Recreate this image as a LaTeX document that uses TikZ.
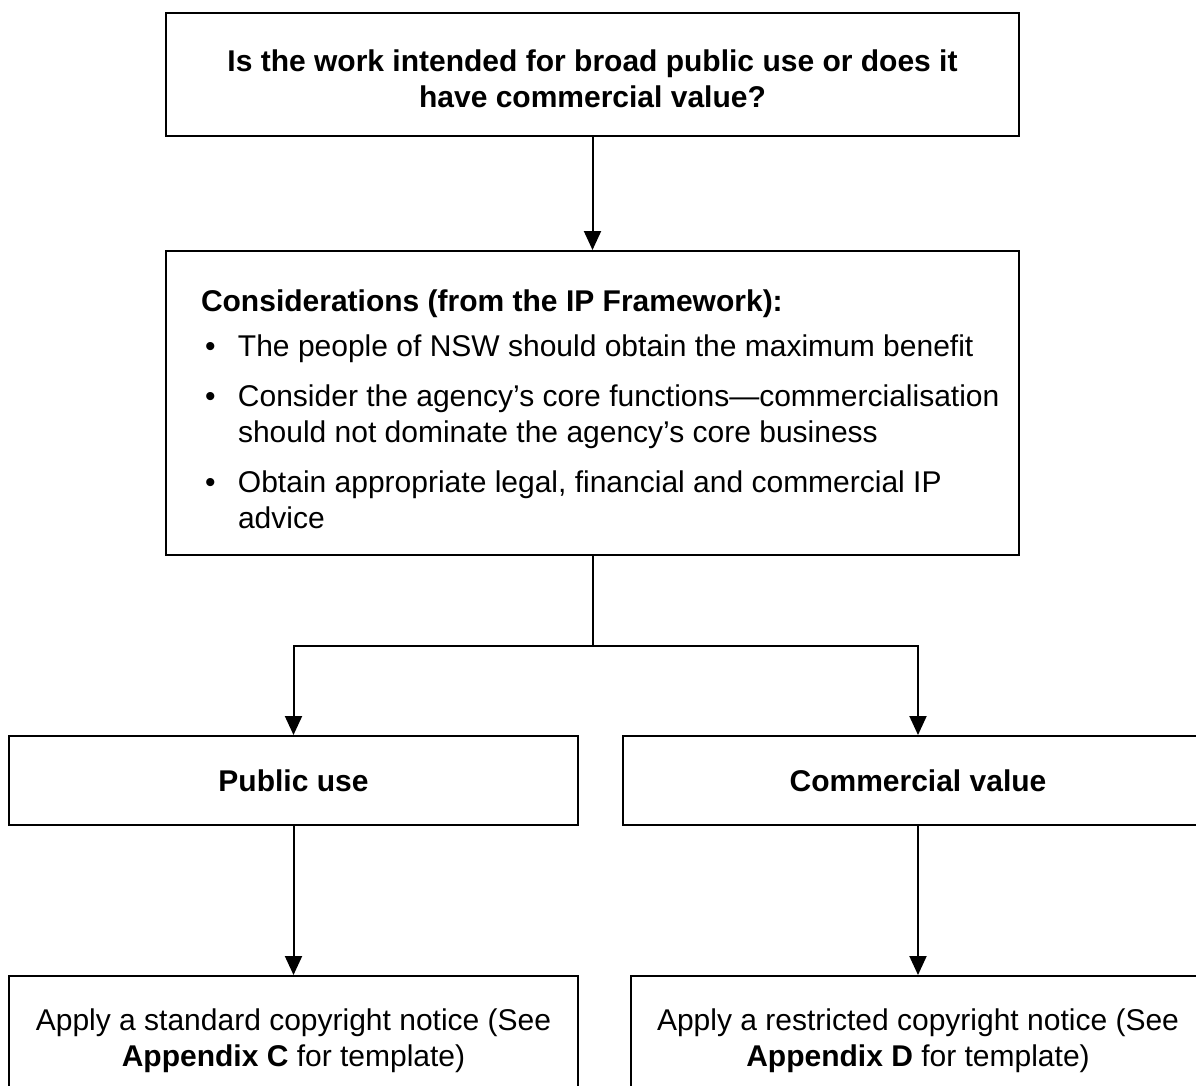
\documentclass[tikz,border=0pt]{standalone}
\usepackage{fontspec}
\setmainfont{Liberation Sans}
\usetikzlibrary{arrows.meta}
% one bulleted paragraph with a hanging indent
\newcommand\ipitem[1]{\par\hangindent=37pt\hangafter=1\noindent\makebox[37pt][l]{\hspace{4pt}\textbullet}#1\par}
\begin{document}
\begin{tikzpicture}[x=1pt,y=-1pt,
  box/.style={draw, line width=2pt, rectangle, inner sep=0pt, align=center,
    font=\fontsize{30}{36}\selectfont},
  link/.style={line width=2pt},
  arrow/.style={link, -{Triangle[length=19pt,width=17pt]}}]
\useasboundingbox (0,0) rectangle (1196,1086);
\fill[white] (0,0) rectangle (1196,1086);
\clip (0,0) rectangle (1196,1086);

% question at the top
\node[box, anchor=north west, minimum width=853pt, minimum height=123pt] (question) at (165,12)
  {\rule{0pt}{31pt}\bfseries Is the work intended for broad public use or does it\\\bfseries have commercial value?};

% considerations from the framework
\node[box, anchor=north west, minimum width=853pt, minimum height=304pt] (consid) at (165,250)
  {\parbox{783pt}{\raggedright\parindent=0pt
    \rule{0pt}{35pt}\textbf{Considerations (from the IP Framework):}\par
    \vspace{9pt}
    \ipitem{The people of NSW should obtain the maximum benefit}
    \vspace{14pt}
    \ipitem{\mbox{Consider the agency’s core functions—commercialisation}\newline should not dominate the agency’s core business}
    \vspace{14pt}
    \ipitem{Obtain appropriate legal, financial and commercial IP\newline advice}}};

% the two outcomes
\node[box, anchor=north west, minimum width=569pt, minimum height=89pt] (public) at (8,735)
  {\bfseries Public use};
\node[box, anchor=north west, minimum width=590pt, minimum height=89pt] (commercial) at (622,735)
  {\bfseries Commercial value};

% the copyright notices
\node[box, anchor=north west, minimum width=569pt, minimum height=129pt] (stdnotice) at (8,975)
  {Apply a standard copyright notice (See\\\textbf{Appendix C} for template)};
\node[box, anchor=north west, minimum width=574pt, minimum height=129pt] (resnotice) at (630,975)
  {Apply a restricted copyright notice (See\\\textbf{Appendix D} for template)};

% connectors
\coordinate (split) at ([yshift=-90pt]consid.south);
\draw[arrow] (question) -- (consid);
\draw[link] (consid.south) -- (split);
\draw[arrow] (split) -| (public.north);
\draw[arrow] (split) -| (commercial.north);
\draw[arrow] (public) -- (stdnotice);
\draw[arrow] (commercial) -- (resnotice);
\end{tikzpicture}
\end{document}
